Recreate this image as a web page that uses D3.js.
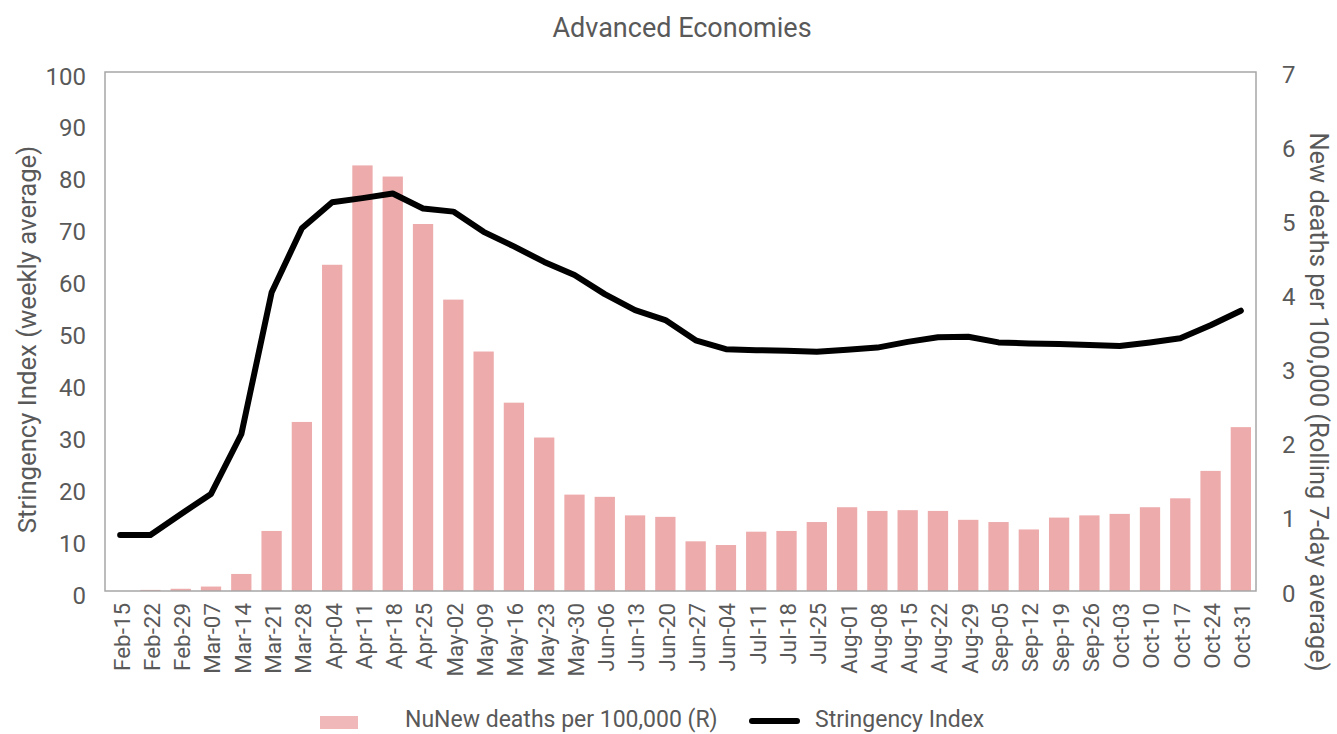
<!DOCTYPE html>
<html>
<head>
<meta charset="utf-8">
<script src="https://cdn.jsdelivr.net/npm/d3@7"></script>
<style>
  html, body { margin: 0; padding: 0; background: #fff; }
  svg { display: block; font-family: Roboto, "Liberation Sans", sans-serif; }
</style>
</head>
<body>
<svg id="chart" width="1337" height="734"></svg>
<script>
const categories = ["Feb-15","Feb-22","Feb-29","Mar-07","Mar-14","Mar-21","Mar-28","Apr-04","Apr-11","Apr-18","Apr-25","May-02","May-09","May-16","May-23","May-30","Jun-06","Jun-13","Jun-20","Jun-27","Jun-04","Jul-11","Jul-18","Jul-25","Aug-01","Aug-08","Aug-15","Aug-22","Aug-29","Sep-05","Sep-12","Sep-19","Sep-26","Oct-03","Oct-10","Oct-17","Oct-24","Oct-31"];
const newDeaths = [0, 0.015, 0.03, 0.06, 0.23, 0.81, 2.28, 4.40, 5.74, 5.59, 4.95, 3.93, 3.23, 2.54, 2.07, 1.30, 1.27, 1.02, 1.00, 0.67, 0.62, 0.80, 0.81, 0.93, 1.13, 1.08, 1.09, 1.08, 0.96, 0.93, 0.83, 0.99, 1.02, 1.04, 1.13, 1.25, 1.62, 2.21];
const stringency = [10.8, 10.8, 14.8, 18.7, 30.2, 57.5, 69.9, 74.9, 75.7, 76.6, 73.7, 73.1, 69.2, 66.4, 63.4, 60.9, 57.2, 54.1, 52.2, 48.3, 46.6, 46.4, 46.3, 46.1, 46.5, 46.9, 48.0, 48.9, 49.0, 47.9, 47.7, 47.6, 47.4, 47.2, 47.9, 48.7, 51.2, 54.0];
const leftTicks = [0,10,20,30,40,50,60,70,80,90,100];
const rightTicks = [0,1,2,3,4,5,6,7];
const titleText = "Advanced Economies";
const leftLabel = "Stringency Index (weekly average)";
const rightLabel = "New deaths per 100,000 (Rolling 7-day average)";
const legendBars = "NuNew deaths per 100,000 (R)";
const legendLine = "Stringency Index";

const svg = d3.select("#chart");
const M = {left: 105, right: 1256, top: 72, bottom: 591};
const textColor = "#595959";
const barColor = "#edabac";

const x = d3.scaleBand().domain(categories).range([M.left, M.right]).paddingInner(0.33).paddingOuter(0.165);
const yL = d3.scaleLinear().domain([0, 100]).range([M.bottom, M.top]);
const yR = d3.scaleLinear().domain([0, 7]).range([M.bottom, M.top]);

// title
svg.append("text").attr("x", 682).attr("y", 37).attr("text-anchor", "middle")
  .attr("font-size", 27).attr("fill", textColor).text(titleText);

// bars
svg.append("g").selectAll("rect").data(categories).join("rect")
  .attr("x", d => x(d)).attr("width", x.bandwidth())
  .attr("y", (d, i) => yR(newDeaths[i]))
  .attr("height", (d, i) => M.bottom - yR(newDeaths[i]))
  .attr("fill", barColor);

// line
const line = d3.line().x((d, i) => x(categories[i]) + x.bandwidth() / 2).y(d => yL(d));
svg.append("path").datum(stringency).attr("d", line)
  .attr("fill", "none").attr("stroke", "#000").attr("stroke-width", 6)
  .attr("stroke-linejoin", "round").attr("stroke-linecap", "round");

// frame
svg.append("rect").attr("x", M.left).attr("y", M.top)
  .attr("width", M.right - M.left).attr("height", M.bottom - M.top)
  .attr("fill", "none").attr("stroke", "#a6a6a6").attr("stroke-width", 1.5);

// left axis
const gL = svg.append("g").attr("transform", `translate(${M.left},0)`)
  .call(d3.axisLeft(yL).tickValues(leftTicks).tickSize(0).tickPadding(19));
gL.select(".domain").remove();
gL.selectAll("text").attr("font-size", 24).attr("fill", textColor).attr("font-family", "Roboto").attr("dy", "0.5em");

// right axis
const gR = svg.append("g").attr("transform", `translate(${M.right},0)`)
  .call(d3.axisRight(yR).tickValues(rightTicks).tickFormat(d3.format("d")).tickSize(0).tickPadding(26));
gR.select(".domain").remove();
gR.selectAll("text").attr("font-size", 24).attr("fill", textColor).attr("font-family", "Roboto").attr("dy", "0.42em");

// x axis
const gX = svg.append("g").attr("transform", `translate(0,${M.bottom})`)
  .call(d3.axisBottom(x).tickSize(0).tickPadding(0));
gX.select(".domain").remove();
gX.selectAll("text").attr("font-size", 22.4).attr("fill", textColor).attr("font-family", "Roboto")
  .attr("transform", "rotate(-90)").attr("text-anchor", "end")
  .attr("x", -12).attr("y", 0).attr("dy", "0.42em");

// axis titles
svg.append("text").attr("transform", `translate(36,${(M.top + M.bottom) / 2 + 8}) rotate(-90)`)
  .attr("text-anchor", "middle").attr("font-size", 25.7).attr("fill", textColor).text(leftLabel);
svg.append("text").attr("transform", `translate(1310,402) rotate(90)`)
  .attr("text-anchor", "middle").attr("font-size", 25.5).attr("fill", textColor).text(rightLabel);

// legend
const lg = svg.append("g");
lg.append("rect").attr("x", 320).attr("y", 716).attr("width", 38).attr("height", 13).attr("fill", "#f1b8b9");
lg.append("text").attr("x", 405).attr("y", 727).attr("font-size", 23).attr("fill", textColor).text(legendBars);
lg.append("line").attr("x1", 752).attr("x2", 797).attr("y1", 721).attr("y2", 721)
  .attr("stroke", "#000").attr("stroke-width", 6).attr("stroke-linecap", "round");
lg.append("text").attr("x", 815).attr("y", 727).attr("font-size", 23).attr("fill", textColor).text(legendLine);
</script>
</body>
</html>
